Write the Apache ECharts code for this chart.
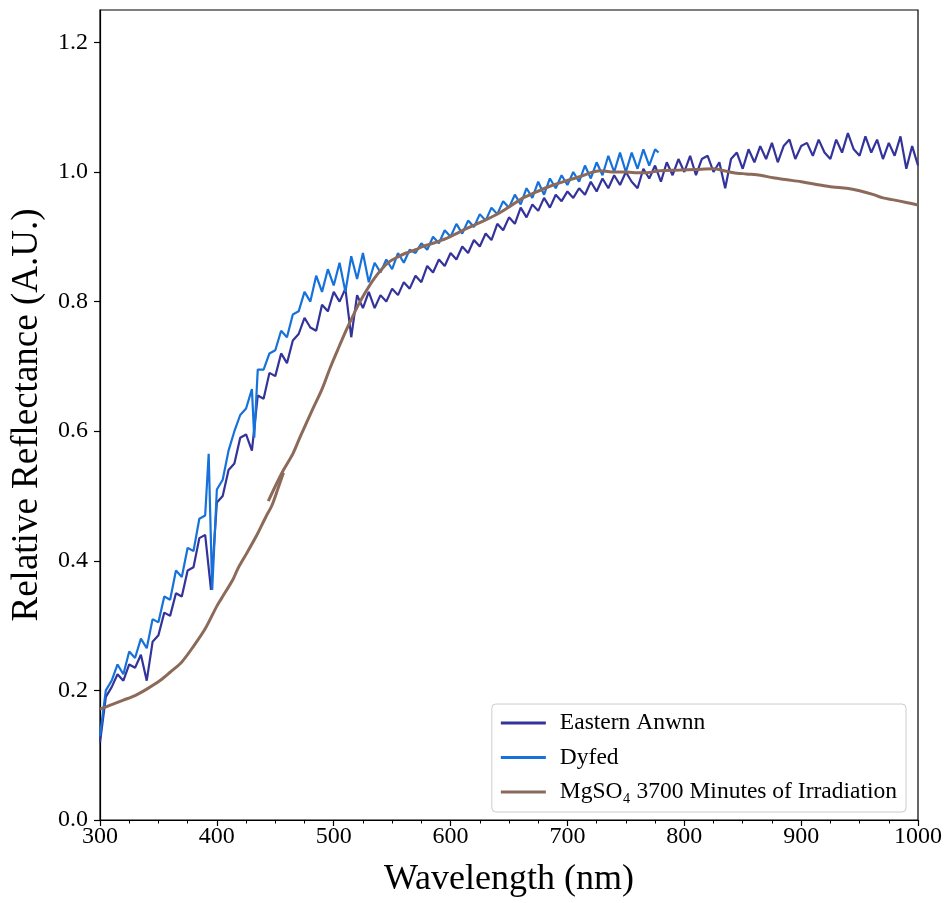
<!DOCTYPE html>
<html>
<head>
<meta charset="utf-8">
<script src="https://cdn.jsdelivr.net/npm/echarts@6/dist/echarts.min.js"></script>
<style>html,body{margin:0;padding:0;background:#fff}#c{width:948px;height:903px}</style>
</head>
<body>
<div id="c"></div>
<script>
// ---- data ----
const anwnnX = [300,305,310,315,320,325,330,335,340,345,350,355,360,365,370,375,380,385,390,395,400,405,410,415,420,425,430,435,440,445,450,455,460,465,470,475,480,485,490,495,500,505,510,515,520,525,530,535,540,545,550,555,560,565,570,575,580,585,590,595,600,605,610,615,620,625,630,635,640,645,650,655,660,665,670,675,680,685,690,695,700,705,710,715,720,725,730,735,740,745,750,755,760,765,770,775,780,785,790,795,800,805,810,815,820,825,830,835,840,845,850,855,860,865,870,875,880,885,890,895,900,905,910,915,920,925,930,935,940,945,950,955,960,965,970,975,980,985,990,995,1000];
const anwnnY = [0.12,0.19,0.205,0.225,0.215,0.24,0.235,0.255,0.215,0.275,0.285,0.32,0.315,0.35,0.345,0.385,0.39,0.435,0.44,0.355,
  0.49,0.50,0.54,0.55,0.59,0.595,0.57,0.655,0.65,0.69,0.685,0.72,0.705,0.74,0.75,0.775,0.76,0.755,0.795,0.785,
  0.815,0.80,0.82,0.745,0.81,0.79,0.815,0.79,0.81,0.80,0.82,0.81,0.83,0.82,0.84,0.83,0.855,0.845,0.865,0.855,
  0.875,0.865,0.885,0.875,0.895,0.885,0.905,0.895,0.92,0.91,0.93,0.92,0.945,0.93,0.95,0.94,0.96,0.945,0.965,0.955,
  0.97,0.96,0.975,0.965,0.985,0.97,0.99,0.975,0.995,0.98,1.0,0.985,0.975,1.005,0.99,1.01,0.985,1.015,0.995,1.02,
  1.0,1.025,0.995,1.02,1.025,1.0,1.015,0.975,1.02,1.03,1.005,1.035,1.015,1.04,1.02,1.045,1.015,1.04,1.05,1.02,
  1.04,1.045,1.025,1.05,1.03,1.02,1.05,1.03,1.06,1.035,1.025,1.055,1.03,1.05,1.02,1.045,1.025,1.055,1.005,1.04,1.01];

const dyfedX = [300,305,310,315,320,325,330,335,340,345,350,355,360,365,370,375,380,385,390,393,396,400,405,410,415,420,425,430,432,435,440,445,450,455,460,465,470,475,480,485,490,495,500,505,510,515,520,525,530,535,540,545,550,555,560,565,570,575,580,585,590,595,600,605,610,615,620,625,630,635,640,645,650,655,660,665,670,675,680,685,690,695,700,705,710,715,720,725,730,735,740,745,750,755,760,765,770,775,778];
const dyfedY = [0.13,0.20,0.215,0.24,0.225,0.26,0.25,0.28,0.265,0.31,0.305,0.345,0.34,0.385,0.375,0.42,0.415,0.465,0.47,0.565,0.355,
  0.51,0.525,0.57,0.60,0.625,0.635,0.665,0.59,0.695,0.695,0.72,0.725,0.755,0.745,0.78,0.785,0.815,0.80,0.84,0.815,0.85,
  0.825,0.86,0.815,0.87,0.835,0.875,0.83,0.86,0.845,0.865,0.85,0.875,0.86,0.88,0.875,0.89,0.88,0.90,0.89,0.91,
  0.90,0.92,0.905,0.925,0.915,0.935,0.925,0.945,0.935,0.955,0.945,0.965,0.95,0.975,0.96,0.985,0.965,0.99,0.975,0.995,
  0.98,1.0,0.985,1.01,0.99,1.015,0.995,1.025,1.0,1.03,1.0,1.03,1.005,1.035,1.01,1.035,1.03];

const mgA_X = [300,310,320,330,340,352,360,370,380,390,400,404,414,418,426,434,442,447,452,457];
const mgA_Y = [0.171,0.178,0.185,0.192,0.202,0.216,0.228,0.244,0.268,0.295,0.33,0.342,0.372,0.388,0.413,0.439,0.468,0.485,0.51,0.536];
const mgB_X = [444,450,457,465,471,482,490,497,504,511,517,522,528,534,541,548,555,562,570,576,585,597,605,614,625,639,650,662,673,685,698,711,720,728,738,748,758,768,779,796,810,825,834,842,853,865,876,888,900,916,927,939,950,962,970,979,990,1000];
const mgB_Y = [0.492,0.515,0.54,0.565,0.59,0.634,0.665,0.698,0.728,0.757,0.78,0.798,0.817,0.834,0.85,0.862,0.869,0.875,0.88,0.885,0.89,0.898,0.905,0.913,0.922,0.934,0.946,0.96,0.969,0.978,0.986,0.993,0.999,1.002,1.0,1.0,0.999,0.999,1.002,1.003,1.004,1.005,1.002,0.999,0.997,0.995,0.991,0.988,0.985,0.98,0.977,0.975,0.971,0.965,0.96,0.957,0.953,0.949];

const seriesNames = ['Eastern Anwnn', 'Dyfed', 'MgSO\u2084 3700 Minutes of Irradiation'];
const xLabelTitle = 'Wavelength (nm)';
const yLabelTitle = 'Relative Reflectance (A.U.)';

const zip = (xs, ys) => xs.map((x, i) => [x, ys[i]]);

const FONT = '"Liberation Serif", "DejaVu Serif", serif';
const chart = echarts.init(document.getElementById('c'), null, {renderer: 'canvas'});
chart.setOption({
  animation: false,
  backgroundColor: '#fff',
  grid: {left: 100, right: 30, top: 10, bottom: 81, show: true, borderColor: '#000', borderWidth: 1.2, backgroundColor: 'transparent'},
  xAxis: {
    type: 'value', min: 300, max: 1000, interval: 100,
    name: xLabelTitle, nameLocation: 'middle', nameGap: 42,
    nameTextStyle: {fontFamily: FONT, fontSize: 36, color: '#000'},
    axisLine: {show: true, onZero: false, lineStyle: {color: '#000', width: 1.2}},
    axisTick: {show: true, length: 6, lineStyle: {color: '#000', width: 1.2}},
    minorTick: {show: true, splitNumber: 4, length: 3.5, lineStyle: {color: '#000', width: 1}},
    axisLabel: {fontFamily: FONT, fontSize: 24, color: '#000', margin: 5, formatter: v => String(v)},
    splitLine: {show: false}
  },
  yAxis: {
    type: 'value', min: 0, max: 1.25, interval: 0.2,
    name: yLabelTitle, nameLocation: 'middle', nameGap: 54, nameRotate: 90,
    nameTextStyle: {fontFamily: FONT, fontSize: 37, color: '#000'},
    axisLine: {show: true, onZero: false, lineStyle: {color: '#000', width: 1.2}},
    axisTick: {show: true, length: 6, lineStyle: {color: '#000', width: 1.2}},
    axisLabel: {fontFamily: FONT, fontSize: 24, color: '#000', margin: 12, showMaxLabel: false,
      formatter: v => (Math.abs(v - 1.25) < 1e-6 ? '' : v.toFixed(1))},
    splitLine: {show: false}
  },
  legend: {
    data: seriesNames,
    orient: 'vertical', right: 42, bottom: 91,
    icon: 'rect', itemWidth: 45, itemHeight: 3, itemGap: 10.5,
    padding: [7, 9, 8, 9],
    backgroundColor: '#fff', borderColor: '#cccccc', borderWidth: 1, borderRadius: 4,
    textStyle: {fontFamily: FONT, fontSize: 23.5, color: '#000', lineHeight: 23, padding: [0, 0, 0, 9]}
  },
  series: [
    {name: seriesNames[0], type: 'line', data: zip(anwnnX, anwnnY), showSymbol: false, symbol: 'none',
      color: '#33339b', lineStyle: {width: 2.2, color: '#33339b'}, z: 2},
    {name: seriesNames[1], type: 'line', data: zip(dyfedX, dyfedY), showSymbol: false, symbol: 'none',
      color: '#1672da', lineStyle: {width: 2.2, color: '#1672da'}, z: 3},
    {name: seriesNames[2], type: 'line', data: zip(mgA_X, mgA_Y), showSymbol: false, symbol: 'none', smooth: 0.3,
      color: '#8c6a5a', lineStyle: {width: 3, color: '#8c6a5a'}, z: 4},
    {name: seriesNames[2], type: 'line', data: zip(mgB_X, mgB_Y), showSymbol: false, symbol: 'none', smooth: 0.3,
      color: '#8c6a5a', lineStyle: {width: 3, color: '#8c6a5a'}, z: 4}
  ]
});
</script>
</body>
</html>
